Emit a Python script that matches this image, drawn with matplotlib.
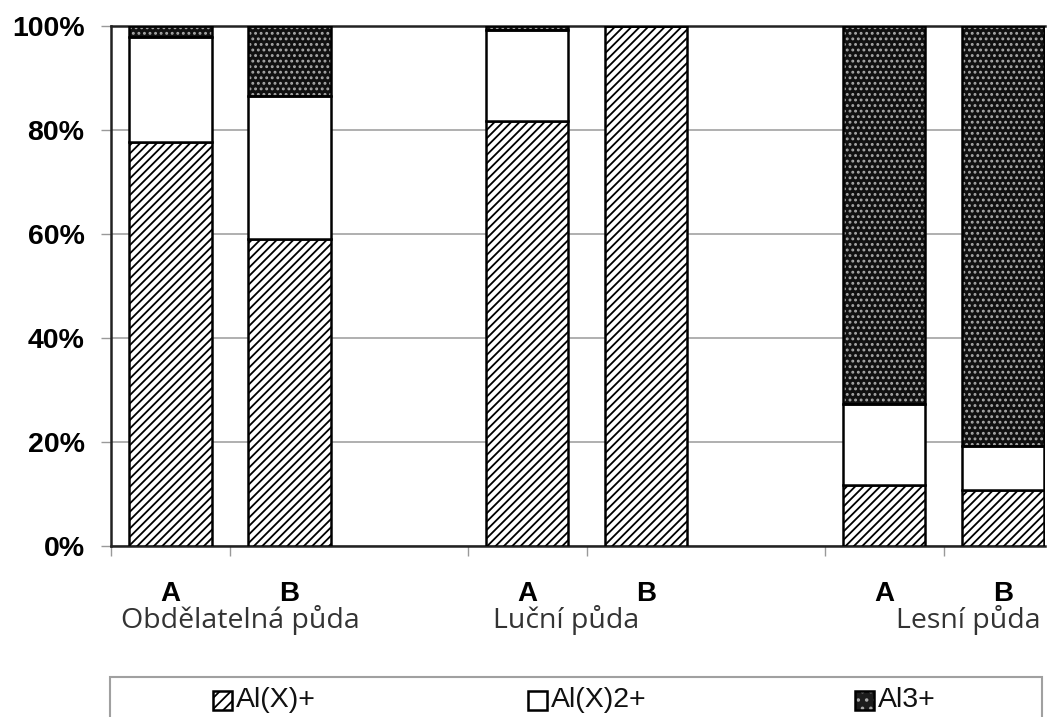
import matplotlib.pyplot as plt
import matplotlib.transforms as mtransforms
from matplotlib.patches import Rectangle
import numpy as np

# aluminium species share (%) per soil sample
slots = [0, 1, 3, 4, 6, 7]
sample_labels = ["A", "B", "A", "B", "A", "B"]
al_x = [77.6, 59.1, 81.8, 100.0, 11.7, 10.8]
al_x2 = [20.2, 27.4, 17.4, 0.0, 15.6, 8.5]
al3 = [2.2, 13.5, 0.8, 0.0, 72.7, 80.7]
series_names = ["Al(X)+", "Al(X)2+", "Al3+"]
groups = ["Obdělatelná půda", "Luční půda", "Lesní půda"]

plt.rcParams["hatch.linewidth"] = 1.3

fig = plt.figure(figsize=(10.51, 7.17), dpi=100)
ax = fig.add_axes([111 / 1051, 1 - 546 / 717, (1045 - 111) / 1051, 520 / 717])

x = np.array(slots) + 0.5
w = 0.69
bottom2 = np.array(al_x)
bottom3 = bottom2 + np.array(al_x2)


def dotted_bar(xs, heights, bottoms):
    # dark fill with grey dots, outlined separately
    ax.bar(xs, heights, w, bottom=bottoms, color="#111111", hatch="...",
           edgecolor="#a8a8a8", linewidth=0, zorder=2)
    ax.bar(xs, heights, w, bottom=bottoms, fill=False, edgecolor="black",
           linewidth=1.8, zorder=3)


ax.bar(x, al_x, w, color="white", hatch="////", edgecolor="black",
       linewidth=1.8, zorder=3)
ax.bar(x, al_x2, w, bottom=bottom2, color="white", edgecolor="black",
       linewidth=1.8, zorder=3)
dotted_bar(x, al3, bottom3)

ax.set_ylim(0, 100)
ax.set_xlim(0, 7.85)
ax.set_yticks([0, 20, 40, 60, 80, 100])
ax.set_yticklabels(["0%", "20%", "40%", "60%", "80%", "100%"],
                   fontsize=20.5, fontweight="bold", family="Liberation Sans")
ax.yaxis.grid(True, color="#9a9a9a", linewidth=1.1, zorder=0)
ax.set_axisbelow(True)
ax.tick_params(axis="y", length=7, color="#999999", width=1, pad=12)

ax.set_xticks([0, 1, 3, 4, 6, 7])
ax.set_xticklabels([])
ax.tick_params(axis="x", which="major", length=7, color="#999999", width=1)
ax.set_xticks(x, minor=True)
ax.set_xticklabels(sample_labels, minor=True, fontsize=20,
                   fontweight="bold", family="Liberation Sans")
ax.tick_params(axis="x", which="minor", length=0, pad=25)

for side in ["left", "bottom", "top"]:
    ax.spines[side].set_linewidth(1.8)
    ax.spines[side].set_color("#222222")
ax.spines["right"].set_visible(False)

trans = mtransforms.blended_transform_factory(ax.transData, ax.transAxes)
group_x = [0.08, 3.21, 7.81]
group_ha = ["left", "left", "right"]
for gx, ha, name in zip(group_x, group_ha, groups):
    ax.text(gx, -0.143, name, transform=trans, ha=ha, va="center",
            fontsize=20.5, family="Open Sans", color="#333333")

# legend box along the bottom
fig.patches.append(Rectangle((110 / 1051, -0.02), (1042 - 110) / 1051,
                             1 - 677 / 717 + 0.02, transform=fig.transFigure,
                             fill=False, edgecolor="#a0a0a0", linewidth=1.5))
leg_x = [213, 528, 855]
leg_y = 1 - 700 / 717
sw, sh = 19 / 1051, 19 / 717
styles = [dict(facecolor="white", hatch="///", edgecolor="black"),
          dict(facecolor="white", edgecolor="black"),
          dict(facecolor="#1c1c1c", hatch="..", edgecolor="#a8a8a8")]
for lx, name, st in zip(leg_x, series_names, styles):
    fx = lx / 1051
    fig.patches.append(Rectangle((fx, leg_y - sh / 2), sw, sh,
                                 transform=fig.transFigure, linewidth=0.8, **st))
    fig.patches.append(Rectangle((fx, leg_y - sh / 2), sw, sh,
                                 transform=fig.transFigure, fill=False,
                                 edgecolor="black", linewidth=1.8))
    fig.text(fx + sw + 4 / 1051, leg_y, name, ha="left", va="center",
             fontsize=20.5, family="Liberation Sans", color="#111111")

fig.savefig("out.png", dpi=100)
